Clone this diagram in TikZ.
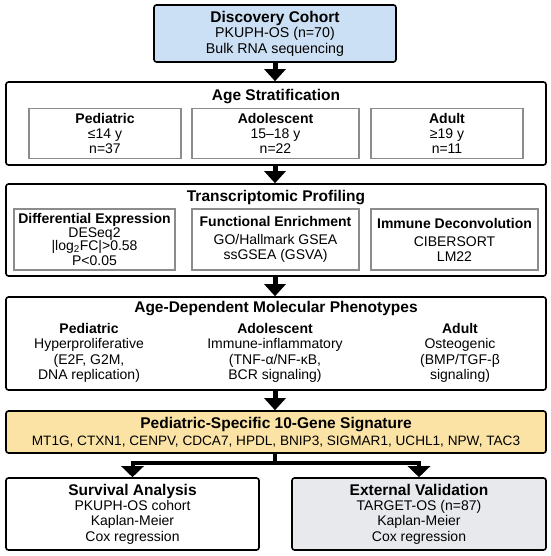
\documentclass[tikz,border=0pt]{standalone}
\usepackage{fontspec}
\setmainfont{Liberation Sans}
\usetikzlibrary{arrows.meta}
\definecolor{cohortblue}{HTML}{CCE0F5}
\definecolor{sigyellow}{HTML}{FBE3A5}
\definecolor{valgray}{HTML}{E8E9EC}
\definecolor{innergray}{HTML}{8C8C8C}
\begin{document}
\begin{tikzpicture}[x=1pt,y=-1pt,
  outerbox/.style={draw=black, line width=1.6pt, rounded corners=2.5pt, inner sep=0pt, align=center},
  innerbox/.style={draw=innergray, line width=1.6pt, inner sep=0pt, align=center, font=\fontsize{14}{15}\selectfont},
  ttl/.style={font=\bfseries\fontsize{15.5}{17}\selectfont, inner sep=0pt},
  body/.style={font=\fontsize{14}{15.3}\selectfont, align=center, inner sep=0pt},
  flow/.style={line width=5pt, -{Triangle[width=21pt,length=12pt]}},
  flowb/.style={line width=4pt, -{Triangle[width=22pt,length=11pt]}},
  branch/.style={line width=4pt}
]
\useasboundingbox (0,0) rectangle (550,556);

% Discovery cohort
\node[outerbox, fill=cohortblue, minimum width=242pt, minimum height=57pt,
      font=\fontsize{14.2}{15.5}\selectfont] (disc) at (275,33.5)
  {{\bfseries\fontsize{15.5}{15.5}\selectfont Discovery Cohort}\\PKUPH-OS (n=70)\\Bulk RNA sequencing};

% Age stratification
\node[outerbox, minimum width=540pt, minimum height=83pt] (age) at (276,123.5) {};
\node[ttl] (agettl) at (276,97) {Age Stratification};
\node[innerbox, minimum width=152pt, minimum height=50pt] (ped) at (105,133.5) {\textbf{Pediatric}\\≤14 y\\n=37};
\node[innerbox, minimum width=167pt, minimum height=50pt] (ado) at (275.5,133.5) {\textbf{Adolescent}\\15–18 y\\n=22};
\node[innerbox, minimum width=152pt, minimum height=50pt] (adu) at (447,133.5) {\textbf{Adult}\\≥19 y\\n=11};

% Transcriptomic profiling
\node[outerbox, minimum width=540pt, minimum height=92pt] (trans) at (276,230) {};
\node[ttl] (transttl) at (276,198) {Transcriptomic Profiling};
\node[innerbox, minimum width=161pt, minimum height=61pt, font=\fontsize{14}{13.6}\selectfont] (de) at (94.5,239.5)
  {\textbf{Differential Expression}\\DESeq2\\|log\textsubscript{2}FC|>0.58\\[1.2pt]P<0.05};
\node[innerbox, minimum width=167pt, minimum height=61pt] (fe) at (275.5,239.5)
  {\textbf{Functional Enrichment}\\[3pt]GO/Hallmark GSEA\\ssGSEA (GSVA)};
\node[innerbox, minimum width=167pt, minimum height=61pt] (idc) at (454.5,239.5)
  {\textbf{Immune Deconvolution}\\[3pt]CIBERSORT\\LM22};

% Phenotypes
\node[outerbox, minimum width=540pt, minimum height=93pt] (pheno) at (276,343.5) {};
\node[ttl] (phenottl) at (276,309) {Age-Dependent Molecular Phenotypes};
\node[body] (pped) at (89,353) {\textbf{Pediatric}\\Hyperproliferative\\(E2F, G2M,\\DNA replication)};
\node[body] (pado) at (275,353) {\textbf{Adolescent}\\Immune-inflammatory\\(TNF-α/NF-κB,\\BCR signaling)};
\node[body] (padu) at (460,353) {\textbf{Adult}\\Osteogenic\\(BMP/TGF-β\\signaling)};

% Signature
\node[outerbox, fill=sigyellow, minimum width=540pt, minimum height=42pt,
      font=\fontsize{13.6}{17}\selectfont] (sig) at (276,432)
  {{\bfseries\fontsize{15.5}{17}\selectfont Pediatric-Specific 10-Gene Signature}\\MT1G, CTXN1, CENPV, CDCA7, HPDL, BNIP3, SIGMAR1, UCHL1, NPW, TAC3};

% Bottom boxes
\node[outerbox, minimum width=253pt, minimum height=72pt, font=\fontsize{14}{15.3}\selectfont] (surv) at (132.5,514)
  {{\bfseries\fontsize{15.5}{15.5}\selectfont Survival Analysis}\\PKUPH-OS cohort\\Kaplan-Meier\\Cox regression};
\node[outerbox, fill=valgray, minimum width=254pt, minimum height=72pt, font=\fontsize{14}{15.3}\selectfont] (ext) at (419,514)
  {{\bfseries\fontsize{15.5}{15.5}\selectfont External Validation}\\TARGET-OS (n=87)\\Kaplan-Meier\\Cox regression};

% Arrows
\draw[flow] (disc.south) -- (disc.south |- age.north);
\draw[flow] (age.south -| disc.south) -- (trans.north -| disc.south);
\draw[flow] (trans.south -| disc.south) -- (pheno.north -| disc.south);
\draw[flow] (pheno.south -| disc.south) -- (sig.north -| disc.south);
\coordinate (sp) at (275,463);
\draw[branch] (sig.south -| sp) -- (sp);
\draw[branch, line cap=rect] (sp -| surv.north) -- (sp -| ext.north);
\draw[flowb] (sp -| surv.north) -- (surv.north);
\draw[flowb] (sp -| ext.north) -- (ext.north);
\end{tikzpicture}
\end{document}
